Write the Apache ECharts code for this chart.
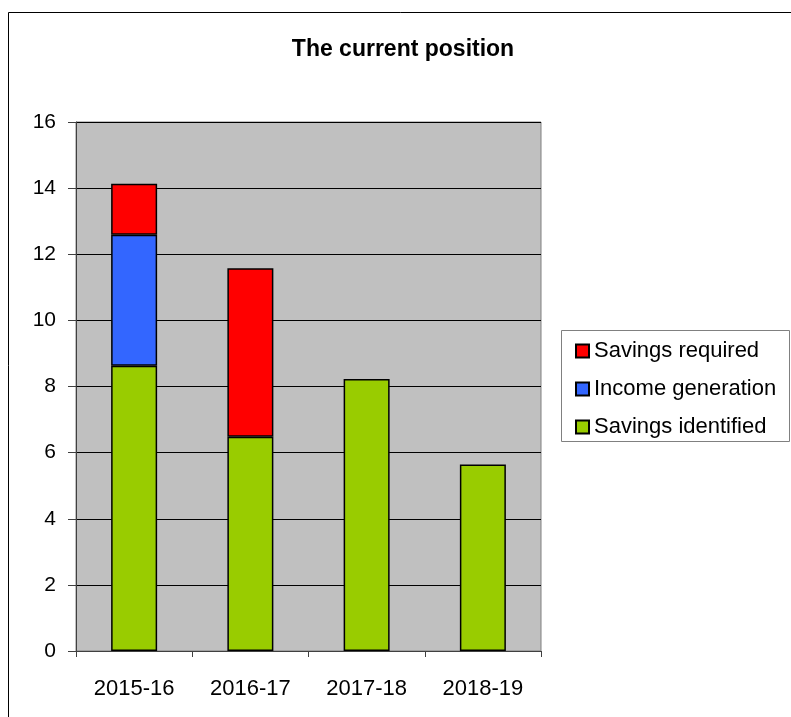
<!DOCTYPE html>
<html>
<head>
<meta charset="utf-8">
<script src="https://cdn.jsdelivr.net/npm/echarts@6/dist/echarts.min.js"></script>
<style>
html,body{margin:0;padding:0;background:#fff;}
#chart{width:791px;height:717px;}
</style>
</head>
<body>
<div id="chart"></div>
<script>
var categories = ['2015-16', '2016-17', '2017-18', '2018-19'];
var savingsIdentified = [8.63, 6.48, 8.23, 5.64];
var incomeGeneration = [3.96, 0, 0, 0];
var savingsRequired = [1.54, 5.10, 0, 0];
var yTicks = [0, 2, 4, 6, 8, 10, 12, 14, 16];

var FONT = '"Liberation Sans", Arial, sans-serif';
var chart = echarts.init(document.getElementById('chart'), null, {renderer: 'canvas'});

function nz(arr) { return arr.map(function (v) { return v === 0 ? null : v; }); }

var barStyle = function (c) {
  return {color: c, borderColor: '#000', borderWidth: 1.5};
};

chart.setOption({
  animation: false,
  backgroundColor: '#fff',
  title: {
    text: 'The current position',
    left: 398, top: 33, textAlign: 'center',
    textStyle: {fontFamily: FONT, fontSize: 23, fontWeight: 'bold', color: '#000'}
  },
  graphic: [
    {type: 'rect', shape: {x: 8.5, y: 12.5, width: 800, height: 720},
     style: {fill: 'none', stroke: '#000', lineWidth: 1}, z: 0},
    {type: 'rect', shape: {x: 561.5, y: 330.5, width: 228, height: 111},
     style: {fill: '#fff', stroke: '#808080', lineWidth: 1}, z: 0}
  ],
  legend: {
    orient: 'vertical',
    left: 570, top: 335,
    itemWidth: 13, itemHeight: 13, itemGap: 16,
    icon: 'rect',
    data: ['Savings required', 'Income generation', 'Savings identified'],
    textStyle: {fontFamily: FONT, fontSize: 22, color: '#000', padding: [0, 0, 0, 0]}
  },
  grid: {
    left: 76, right: 250, top: 122, bottom: 66,
    show: true, backgroundColor: '#C0C0C0', borderColor: '#808080', borderWidth: 1
  },
  xAxis: {
    type: 'category', data: categories,
    axisLine: {lineStyle: {color: '#404040', width: 1}},
    axisTick: {show: true, length: 6, lineStyle: {color: '#404040'}},
    axisLabel: {fontFamily: FONT, fontSize: 22, color: '#000', margin: 27}
  },
  yAxis: {
    type: 'value', min: yTicks[0], max: yTicks[yTicks.length - 1], interval: 2,
    axisLine: {show: true, lineStyle: {color: '#404040', width: 1}},
    axisTick: {show: true, length: 8, lineStyle: {color: '#404040'}},
    splitLine: {show: true, lineStyle: {color: '#000', width: 1}},
    axisLabel: {fontFamily: FONT, fontSize: 21, color: '#000', margin: 20}
  },
  series: [
    {name: 'Savings identified', type: 'bar', stack: 's', barWidth: 46,
     data: savingsIdentified, itemStyle: barStyle('#99CC00')},
    {name: 'Income generation', type: 'bar', stack: 's', barWidth: 46,
     data: nz(incomeGeneration), itemStyle: barStyle('#3366FF')},
    {name: 'Savings required', type: 'bar', stack: 's', barWidth: 46,
     data: nz(savingsRequired), itemStyle: barStyle('#FF0000')}
  ]
});
</script>
</body>
</html>
